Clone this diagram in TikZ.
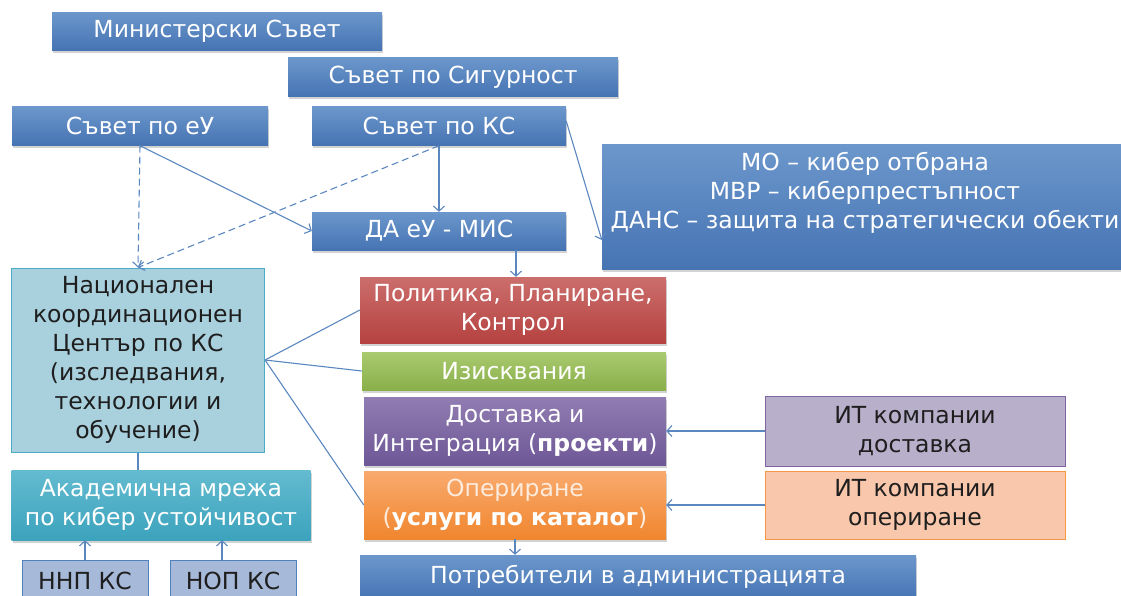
\documentclass[tikz,border=0pt]{standalone}
\usepackage{fontspec}
\setmainfont{DejaVu Sans}
\usetikzlibrary{arrows.meta,shadows}
\definecolor{bTop}{HTML}{6C97CC}
\definecolor{bBot}{HTML}{4674B3}
\definecolor{rTop}{HTML}{CB6E6C}
\definecolor{rBot}{HTML}{B54240}
\definecolor{gTop}{HTML}{AACA6F}
\definecolor{gBot}{HTML}{89AF4A}
\definecolor{pTop}{HTML}{917DB2}
\definecolor{pBot}{HTML}{6E5796}
\definecolor{oTop}{HTML}{F9AA6E}
\definecolor{oBot}{HTML}{F0862E}
\definecolor{tTop}{HTML}{63BBD0}
\definecolor{tBot}{HTML}{3CA3BD}
\definecolor{nkFill}{HTML}{A9D0DD}
\definecolor{nkLine}{HTML}{4BACC6}
\definecolor{nnFill}{HTML}{A7B9D9}
\definecolor{nnLine}{HTML}{4F81BD}
\definecolor{idFill}{HTML}{B8AFCB}
\definecolor{idLine}{HTML}{8064A2}
\definecolor{ioFill}{HTML}{F9C7AB}
\definecolor{ioLine}{HTML}{F79646}
\definecolor{lineC}{HTML}{5B87C0}
\definecolor{darkT}{HTML}{1E1E1E}
\definecolor{opeT}{HTML}{FDEBDD}
\begin{document}
\begin{tikzpicture}[x=1pt,y=-1pt,
  box/.style={rectangle, inner sep=0pt, align=center,
    font=\fontsize{23.5}{29}\selectfont,
    drop shadow={shadow xshift=1pt,shadow yshift=-2.5pt,opacity=0.35}},
  bluebox/.style={box, top color=bTop, bottom color=bBot, text=white},
  redbox/.style={box, top color=rTop, bottom color=rBot, text=white},
  greenbox/.style={box, top color=gTop, bottom color=gBot, text=white},
  purplebox/.style={box, top color=pTop, bottom color=pBot, text=white},
  orangebox/.style={box, top color=oTop, bottom color=oBot, text=opeT},
  tealbox/.style={box, top color=tTop, bottom color=tBot, text=white},
  lightbox/.style={rectangle, inner sep=0pt, align=center,
    font=\fontsize{23.5}{29}\selectfont, text=darkT, line width=1pt},
  conn/.style={draw=lineC, line width=1.1pt},
  arr/.style={conn, -{Straight Barb[length=5pt,width=11pt]}},
  darr/.style={arr, dash pattern=on 7pt off 4pt},
]
\useasboundingbox (0,0) rectangle (1121,595);

\node[bluebox, minimum width=330pt, minimum height=38pt] (ms) at (217,31) {Министерски Съвет};
\node[bluebox, minimum width=330pt, minimum height=39pt] (ss) at (453,77) {Съвет по Сигурност};
\node[bluebox, minimum width=256pt, minimum height=39pt] (seu) at (140,126) {Съвет по еУ};
\node[bluebox, minimum width=254pt, minimum height=39pt] (sks) at (439,126) {Съвет по КС};
\node[bluebox, minimum width=526pt, minimum height=125pt] (mo) at (865,207) {};
\node[font=\fontsize{23.5}{29}\selectfont, text=white, align=center] (motext) at (865,193)
  {МО – кибер отбрана\\МВР – киберпрестъпност\\ДАНС – защита на стратегически обекти};
\node[bluebox, minimum width=254pt, minimum height=38pt] (da) at (439,231) {ДА еУ - МИС};

\node[lightbox, fill=nkFill, draw=nkLine, minimum width=253pt, minimum height=184pt] (nk) at (138,360)
  {Национален\\координационен\\Център по КС\\(изследвания,\\технологии и\\обучение)};

\node[redbox, minimum width=306pt, minimum height=66pt] (pol) at (513,310) {Политика, Планиране,\\Контрол};
\node[greenbox, minimum width=304pt, minimum height=38pt] (izi) at (514,371) {Изисквания};
\node[purplebox, minimum width=302pt, minimum height=68pt] (dos) at (515,431) {Доставка и\\Интеграция (\textbf{\color{white}проекти})};
\node[orangebox, minimum width=302pt, minimum height=68pt] (ope) at (515,505) {Опериране\\(\textbf{\color{white}услуги по каталог})};
\node[bluebox, minimum width=556pt, minimum height=44pt] (pot) at (638,577) {Потребители в администрацията};

\node[tealbox, minimum width=299pt, minimum height=70pt] (akm) at (161,505) {Академична мрежа\\по кибер устойчивост};
\node[lightbox, fill=nnFill, draw=nnLine, minimum width=126pt, minimum height=42pt] (nnp) at (85,581) {ННП КС};
\node[lightbox, fill=nnFill, draw=nnLine, minimum width=126pt, minimum height=42pt] (nop) at (233,581) {НОП КС};

\node[lightbox, fill=idFill, draw=idLine, minimum width=300pt, minimum height=70pt] (itd) at (915,431) {ИТ компании\\доставка};
\node[lightbox, fill=ioFill, draw=ioLine, minimum width=300pt, minimum height=68pt] (ito) at (915,505) {ИТ компании\\опериране};

% connectors
\draw[arr] (seu.south) -- (da.west);
\draw[darr] (seu.south) -- (nk.north);
\draw[darr] (sks.south) -- (nk.north);
\draw[arr] (sks.south) -- (da.north);
\draw[arr] ([yshift=5pt]sks.east) -- ([yshift=-33pt]mo.west);
\draw[arr] ([xshift=77pt]da.south) -- ([xshift=77pt]da.south |- pol.north);
\draw[conn] (nk.east) -- (pol.west);
\draw[conn] (nk.east) -- (izi.west);
\draw[conn] (nk.east) -- (ope.west);
\draw[conn] (nk.south) -- (nk.south |- akm.north);
\draw[arr] (nnp.north) -- (nnp.north |- akm.south);
\draw[arr] ([xshift=-11pt]nop.north) -- ([xshift=-11pt]nop.north |- akm.south);
\draw[arr] (itd.west) -- (itd.west -| dos.east);
\draw[arr] (ito.west) -- (ito.west -| ope.east);
\draw[arr] (ope.south) -- (ope.south |- pot.north);
\end{tikzpicture}
\end{document}
